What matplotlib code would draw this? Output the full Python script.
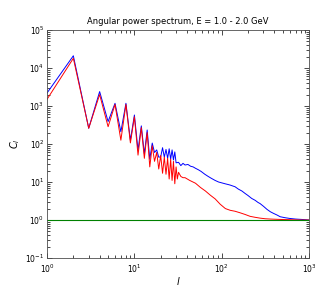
import numpy as np
import matplotlib
matplotlib.use('Agg')
import matplotlib.pyplot as plt

# multipole values and spectra
l_blue = [1, 2, 3, 4, 5, 6, 7, 8, 9, 10, 11, 12, 13, 14, 15, 16, 17, 18, 19, 20,
          21, 22, 23, 24, 25, 26, 27, 28, 29, 30, 32, 34, 36, 38, 41, 44, 47, 50,
          54, 58, 64, 70, 76, 84, 92, 100, 109, 118, 125, 135, 142, 155, 170, 185,
          200, 220, 241, 260, 275, 300, 330, 360, 390, 430, 466, 530, 600, 700,
          800, 900, 1000]
cl_blue = [2200, 21000, 260, 2400, 390, 1180, 210, 1180, 126, 580, 69, 300, 55, 234,
           40, 106, 60, 70, 45, 46, 80, 45, 72, 42, 75, 40, 70, 38, 62, 32, 33, 27,
           31, 28, 29, 26, 25, 23, 21, 19, 16, 14, 12.5, 11, 10, 9.5, 9.0, 8.6, 8.3,
           7.8, 7.5, 6.5, 5.8, 5.0, 4.4, 3.7, 3.3, 2.9, 2.7, 2.3, 1.9, 1.65, 1.5,
           1.35, 1.22, 1.15, 1.1, 1.06, 1.04, 1.02, 1.0]

l_red = [1, 2, 3, 4, 5, 6, 7, 8, 9, 10, 11, 12, 13, 14, 15, 16, 17, 18, 19, 20,
         21, 22, 23, 24, 25, 26, 27, 28, 29, 30, 31, 32, 34, 36, 38, 43, 50, 57,
         65, 74, 84, 96, 110, 125, 142, 162, 185, 211, 240, 275, 314, 360, 400,
         500, 600, 800, 1000]
cl_red = [1500, 18000, 260, 2000, 285, 1100, 126, 1100, 107, 520, 51, 270, 42, 200,
          25, 90, 35, 60, 22, 50, 17, 45, 16, 42, 12, 40, 11, 35, 9, 25, 12, 18, 14,
          13, 13, 11, 9.3, 7.2, 5.8, 4.5, 3.6, 2.6, 2.0, 1.8, 1.7, 1.55, 1.4, 1.25,
          1.18, 1.12, 1.08, 1.06, 1.05, 1.03, 1.02, 1.0, 1.0]

l_range = [1, 1000]
noise_level = [1.0, 1.0]

fig = plt.figure(figsize=(3.36, 2.94), dpi=100)
ax = fig.add_axes([0.14, 0.1224, 0.78, 0.7755])

ax.plot(l_blue, cl_blue, color='b', lw=0.7)
ax.plot(l_red, cl_red, color='r', lw=0.7)
ax.plot(l_range, noise_level, color='g', lw=0.8)

ax.set_xscale('log')
ax.set_yscale('log')
ax.set_xlim(1, 1000)
ax.set_ylim(0.1, 1e5)

ax.tick_params(which='both', direction='in', top=True, right=True,
               labelsize=5.5, width=0.5)
ax.tick_params(axis='x', pad=3)
ax.tick_params(axis='y', pad=2)
ax.tick_params(which='major', length=3.5)
ax.tick_params(which='minor', length=2)
for s in ax.spines.values():
    s.set_linewidth(0.6)
    s.set_color('0.3')

ax.set_title('Angular power spectrum, E = 1.0 - 2.0 GeV', fontsize=6, pad=4)
ax.set_xlabel('$l$', fontsize=7, labelpad=0)
ax.set_ylabel('$C_l$', fontsize=7, labelpad=2)

fig.savefig('out.png', dpi=100, facecolor='white')
